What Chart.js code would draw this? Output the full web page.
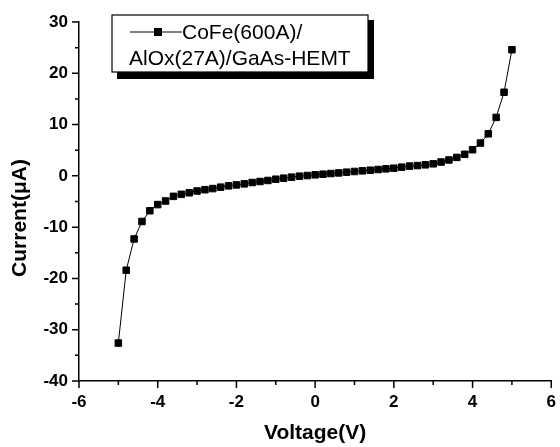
<!DOCTYPE html>
<html>
<head>
<meta charset="utf-8">
<script src="https://cdn.jsdelivr.net/npm/chart.js@4/dist/chart.umd.min.js"></script>
<style>
  body { margin: 0; background: #fff; }
  canvas { display: block; }
</style>
</head>
<body>
<canvas id="iv-chart" width="560" height="447"></canvas>
<script>
(function () {
    // bias sweep, V
    const voltage = [
        -5.0, -4.8, -4.6, -4.4, -4.2, -4.0, -3.8, -3.6, -3.4, -3.2,
        -3.0, -2.8, -2.6, -2.4, -2.2, -2.0, -1.8, -1.6, -1.4, -1.2,
        -1.0, -0.8, -0.6, -0.4, -0.2, 0.0, 0.2, 0.4, 0.6, 0.8,
        1.0, 1.2, 1.4, 1.6, 1.8, 2.0, 2.2, 2.4, 2.6, 2.8,
        3.0, 3.2, 3.4, 3.6, 3.8, 4.0, 4.2, 4.4, 4.6, 4.8, 5.0,
    ];
    const current = [
        -32.6, -18.4, -12.3, -8.9, -6.8, -5.6, -4.9, -4.0, -3.6, -3.3,
        -2.95, -2.7, -2.48, -2.2, -1.95, -1.76, -1.56, -1.3, -1.1, -0.9,
        -0.65, -0.45, -0.25, -0.06, 0.06, 0.2, 0.33, 0.45, 0.58, 0.72,
        0.85, 0.98, 1.1, 1.24, 1.37, 1.5, 1.7, 1.9, 2.0, 2.15,
        2.35, 2.7, 3.1, 3.6, 4.2, 5.1, 6.4, 8.2, 11.4, 16.3, 24.6,
    ];
    const legendLines = ["CoFe(600A)/", "AlOx(27A)/GaAs-HEMT"];
    const xTitle = "Voltage(V)";
    const yTitle = "Current(\u03bcA)";

    const fontFamily = "'Liberation Sans', Arial, Helvetica, sans-serif";

    // major/minor tick marks drawn by hand (Chart.js has no minor ticks)
    const tickMarks = {
        id: 'tickMarks',
        afterDraw(chart) {
            const c = chart.ctx;
            const xs = chart.scales.x, ys = chart.scales.y;
            const area = chart.chartArea;
            c.save();
            c.strokeStyle = '#000';
            c.lineWidth = 1.5;
            c.beginPath();
            xs.ticks.forEach(t => {
                const px = xs.getPixelForValue(t.value);
                const len = Math.round(t.value) % 2 === 0 ? 7 : 4;
                c.moveTo(px, area.bottom);
                c.lineTo(px, area.bottom + len);
            });
            ys.ticks.forEach(t => {
                const py = ys.getPixelForValue(t.value);
                const len = Math.round(t.value) % 10 === 0 ? 7 : 4;
                c.moveTo(area.left, py);
                c.lineTo(area.left - len, py);
            });
            c.stroke();

            // y axis title, sits a bit below centre in the original
            c.fillStyle = '#000';
            c.font = "bold 21px " + fontFamily;
            c.textAlign = 'center';
            c.textBaseline = 'middle';
            c.translate(20, 218);
            c.rotate(-Math.PI / 2);
            c.fillText(yTitle, 0, 0);
            c.restore();
        }
    };

    // boxed legend with drop shadow, label split over two lines
    const boxLegend = {
        id: 'boxLegend',
        afterDraw(chart) {
            const c = chart.ctx;
            const box = {left: 112, top: 15, right: 368, bottom: 72};
            c.save();
            c.fillStyle = '#000';
            c.fillRect(box.left + 5, box.top + 5, box.right - box.left + 1, box.bottom - box.top + 2);
            c.fillStyle = '#fff';
            c.fillRect(box.left, box.top, box.right - box.left, box.bottom - box.top);
            c.strokeStyle = '#000';
            c.lineWidth = 1.2;
            c.strokeRect(box.left, box.top, box.right - box.left, box.bottom - box.top);

            c.lineWidth = 1;
            c.beginPath();
            c.moveTo(130, 32);
            c.lineTo(182, 32);
            c.stroke();
            c.fillStyle = '#000';
            c.fillRect(154, 28, 8, 8);

            c.font = "21px " + fontFamily;
            c.textAlign = 'left';
            c.textBaseline = 'middle';
            c.fillText(legendLines[0], 182, 33);
            c.fillText(legendLines[1], 129, 59);
            c.restore();
        }
    };

    const ctx = document.getElementById('iv-chart');
    const chart = new Chart(ctx, {
        type: 'line',
        data: {
            datasets: [{
                label: legendLines.join(""),
                data: voltage.map((v, i) => ({x: v, y: current[i]})),
                borderColor: '#000',
                borderWidth: 1,
                tension: 0,
                pointStyle: 'rect',
                pointRadius: 4.6,
                pointBorderWidth: 1,
                pointBackgroundColor: '#000',
                pointBorderColor: '#000',
            }],
        },
        options: {
            responsive: false,
            animation: false,
            layout: {
                padding: {top: 22, right: 6, left: 0, bottom: 0},
            },
            scales: {
                x: {
                    type: 'linear',
                    min: -6,
                    max: 6,
                    afterFit: scale => { scale.height = 66; },
                    grid: {display: false, drawTicks: true, tickLength: 7},
                    border: {display: true, color: '#000', width: 1.5},
                    ticks: {
                        stepSize: 1,
                        autoSkip: false,
                        maxRotation: 0,
                        padding: 4,
                        color: '#000',
                        font: {family: fontFamily, size: 17, weight: 'bold'},
                        callback: v => Math.round(v) % 2 === 0 ? v : '',
                    },
                    title: {
                        display: true,
                        text: xTitle,
                        color: '#000',
                        padding: {top: 0, bottom: 1},
                        font: {family: fontFamily, size: 21, weight: 'bold'},
                    },
                },
                y: {
                    min: -40,
                    max: 30,
                    afterFit: scale => { scale.width = 79; },
                    grid: {display: false, drawTicks: true, tickLength: 7},
                    border: {display: true, color: '#000', width: 1.5},
                    ticks: {
                        stepSize: 5,
                        autoSkip: false,
                        padding: 4,
                        color: '#000',
                        font: {family: fontFamily, size: 17, weight: 'bold'},
                        callback: v => Math.round(v) % 10 === 0 ? v : '',
                    },
                },
            },
            plugins: {
                legend: {display: false},
                tooltip: {enabled: false},
            },
        },
        plugins: [tickMarks, boxLegend],
    });

    window.chart = chart;
})();
</script>
</body>
</html>
